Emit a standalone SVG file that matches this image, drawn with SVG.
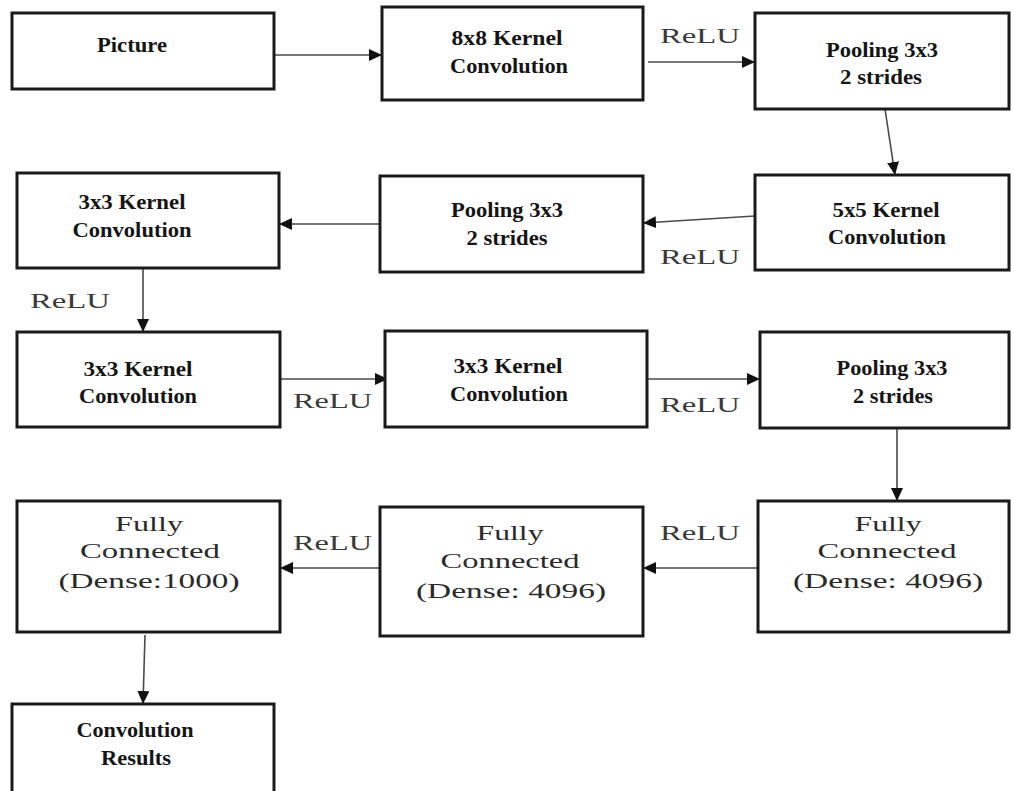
<svg xmlns="http://www.w3.org/2000/svg" width="1014" height="791" viewBox="0 0 1014 791">
<style>
.box{fill:#fff;stroke:#1a1a1a;stroke-width:3}
.b{font-family:"Liberation Serif","Times New Roman",serif;font-weight:bold;font-size:21px;fill:#151515;text-anchor:middle}
.n{font-family:"Liberation Serif","Times New Roman",serif;font-size:22px;fill:#2a2a2a;text-anchor:middle}
.r{font-family:"Liberation Serif","Times New Roman",serif;font-size:21px;fill:#3a3a3a}
.c{stroke:#4a4a4a;stroke-width:1.6;fill:none;marker-end:url(#ah)}
</style>
<defs>
<marker id="ah" markerUnits="userSpaceOnUse" markerWidth="14" markerHeight="12" refX="13" refY="6" orient="auto">
<path d="M0,0 L13,6 L0,12 z" fill="#111"/>
</marker>
</defs>
<rect width="1014" height="791" fill="#fff"/>
<g id="connectors">
<line class="c" x1="274" y1="55" x2="382" y2="55"/>
<line class="c" x1="648" y1="62" x2="755" y2="62"/>
<line class="c" x1="885" y1="109" x2="895" y2="175"/>
<line class="c" x1="755" y1="216" x2="643" y2="223"/>
<line class="c" x1="380" y1="224" x2="279" y2="224"/>
<line class="c" x1="143" y1="268" x2="143" y2="332"/>
<line class="c" x1="280" y1="379" x2="388" y2="379"/>
<line class="c" x1="647" y1="379" x2="760" y2="379"/>
<line class="c" x1="897" y1="428" x2="897" y2="501"/>
<line class="c" x1="758" y1="568" x2="643" y2="568"/>
<line class="c" x1="380" y1="568" x2="280" y2="568"/>
<line class="c" x1="145" y1="635" x2="143" y2="704"/>
<text class="r" x="660" y="43" textLength="80" lengthAdjust="spacingAndGlyphs">ReLU</text>
<text class="r" x="660" y="264" textLength="80" lengthAdjust="spacingAndGlyphs">ReLU</text>
<text class="r" x="30" y="308" textLength="80" lengthAdjust="spacingAndGlyphs">ReLU</text>
<text class="r" x="293" y="408" textLength="79" lengthAdjust="spacingAndGlyphs">ReLU</text>
<text class="r" x="660" y="412" textLength="80" lengthAdjust="spacingAndGlyphs">ReLU</text>
<text class="r" x="660" y="540" textLength="80" lengthAdjust="spacingAndGlyphs">ReLU</text>
<text class="r" x="293" y="550" textLength="79" lengthAdjust="spacingAndGlyphs">ReLU</text>
</g>
<g id="picture">
<rect class="box" x="12" y="13" width="262" height="76"/>
<text class="b" x="132" y="52" textLength="70" lengthAdjust="spacingAndGlyphs">Picture</text>
</g>
<g id="conv8x8">
<rect class="box" x="382" y="7" width="261" height="93"/>
<text class="b" x="507" y="45" textLength="111" lengthAdjust="spacingAndGlyphs">8x8 Kernel</text>
<text class="b" x="509" y="73" textLength="118" lengthAdjust="spacingAndGlyphs">Convolution</text>
</g>
<g id="pool1">
<rect class="box" x="755" y="13" width="254" height="96"/>
<text class="b" x="882" y="57" textLength="112" lengthAdjust="spacingAndGlyphs">Pooling 3x3</text>
<text class="b" x="881" y="84" textLength="82" lengthAdjust="spacingAndGlyphs">2 strides</text>
</g>
<g id="conv5x5">
<rect class="box" x="755" y="175" width="254" height="95"/>
<text class="b" x="886" y="217" textLength="107" lengthAdjust="spacingAndGlyphs">5x5 Kernel</text>
<text class="b" x="887" y="244" textLength="118" lengthAdjust="spacingAndGlyphs">Convolution</text>
</g>
<g id="pool2">
<rect class="box" x="380" y="176" width="263" height="96"/>
<text class="b" x="507" y="217" textLength="112" lengthAdjust="spacingAndGlyphs">Pooling 3x3</text>
<text class="b" x="507" y="245" textLength="81" lengthAdjust="spacingAndGlyphs">2 strides</text>
</g>
<g id="conv3x3a">
<rect class="box" x="17" y="173" width="262" height="95"/>
<text class="b" x="132" y="209" textLength="107" lengthAdjust="spacingAndGlyphs">3x3 Kernel</text>
<text class="b" x="132" y="237" textLength="119" lengthAdjust="spacingAndGlyphs">Convolution</text>
</g>
<g id="conv3x3b">
<rect class="box" x="17" y="332" width="263" height="95"/>
<text class="b" x="138" y="376" textLength="109" lengthAdjust="spacingAndGlyphs">3x3 Kernel</text>
<text class="b" x="138" y="403" textLength="118" lengthAdjust="spacingAndGlyphs">Convolution</text>
</g>
<g id="conv3x3c">
<rect class="box" x="385" y="331" width="262" height="96"/>
<text class="b" x="508" y="373" textLength="109" lengthAdjust="spacingAndGlyphs">3x3 Kernel</text>
<text class="b" x="509" y="401" textLength="118" lengthAdjust="spacingAndGlyphs">Convolution</text>
</g>
<g id="pool3">
<rect class="box" x="760" y="332" width="249" height="96"/>
<text class="b" x="892" y="375" textLength="111" lengthAdjust="spacingAndGlyphs">Pooling 3x3</text>
<text class="b" x="893" y="403" textLength="80" lengthAdjust="spacingAndGlyphs">2 strides</text>
</g>
<g id="fc4096a">
<rect class="box" x="758" y="501" width="251" height="131"/>
<text class="n" x="888" y="531" textLength="67" lengthAdjust="spacingAndGlyphs">Fully</text>
<text class="n" x="887" y="558" textLength="139" lengthAdjust="spacingAndGlyphs">Connected</text>
<text class="n" x="888" y="588" textLength="190" lengthAdjust="spacingAndGlyphs">(Dense: 4096)</text>
</g>
<g id="fc4096b">
<rect class="box" x="380" y="507" width="263" height="129"/>
<text class="n" x="510" y="540" textLength="67" lengthAdjust="spacingAndGlyphs">Fully</text>
<text class="n" x="510" y="568" textLength="139" lengthAdjust="spacingAndGlyphs">Connected</text>
<text class="n" x="511" y="598" textLength="190" lengthAdjust="spacingAndGlyphs">(Dense: 4096)</text>
</g>
<g id="fc1000">
<rect class="box" x="17" y="501" width="263" height="131"/>
<text class="n" x="149" y="531" textLength="68" lengthAdjust="spacingAndGlyphs">Fully</text>
<text class="n" x="150" y="558" textLength="140" lengthAdjust="spacingAndGlyphs">Connected</text>
<text class="n" x="149" y="588" textLength="181" lengthAdjust="spacingAndGlyphs">(Dense:1000)</text>
</g>
<g id="results">
<rect class="box" x="12" y="704" width="262" height="100"/>
<text class="b" x="135" y="737" textLength="117" lengthAdjust="spacingAndGlyphs">Convolution</text>
<text class="b" x="136" y="765" textLength="70" lengthAdjust="spacingAndGlyphs">Results</text>
</g>
</svg>
